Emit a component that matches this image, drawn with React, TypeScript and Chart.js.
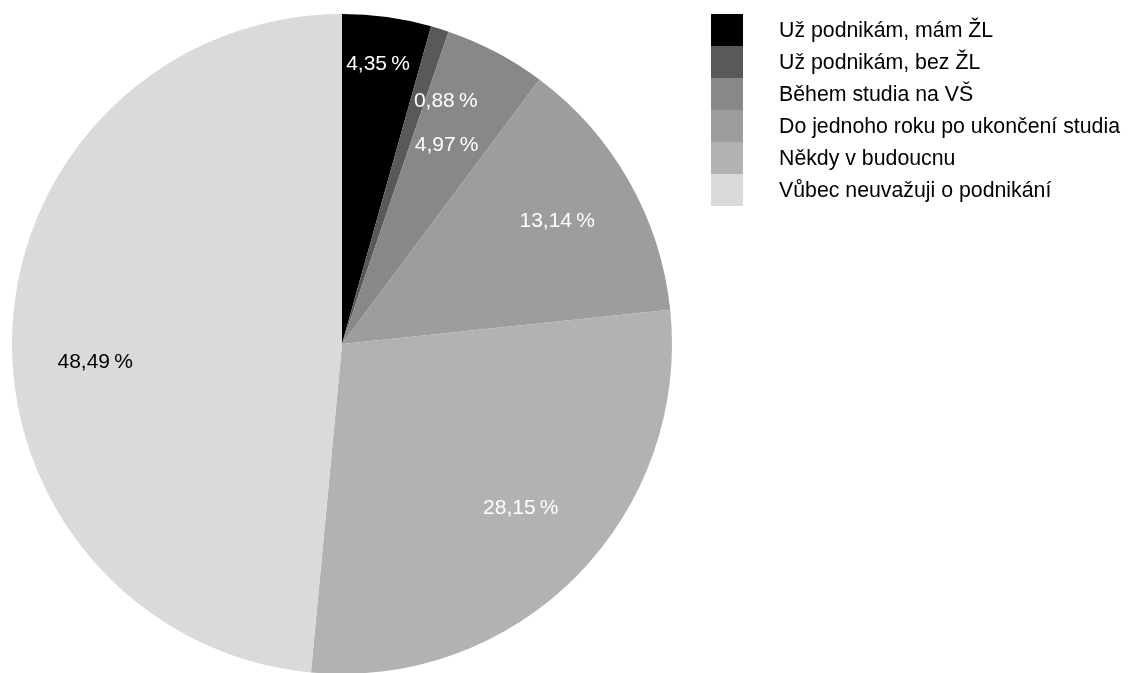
import React, { useEffect, useRef } from "react";
import { Chart, registerables } from "chart.js";

Chart.register(...registerables);

const categories = [
  "Už podnikám, mám ŽL",
  "Už podnikám, bez ŽL",
  "Během studia na VŠ",
  "Do jednoho roku po ukončení studia",
  "Někdy v budoucnu",
  "Vůbec neuvažuji o podnikání",
];
const values = [4.35, 0.88, 4.97, 13.14, 28.15, 48.49];
const colors = ["#000000", "#58595b", "#87888a", "#9c9d9f", "#b1b2b4", "#d9dadc"];
const labelColors = ["#ffffff", "#ffffff", "#ffffff", "#ffffff", "#ffffff", "#000000"];
// label placement relative to each arc: fraction of radius, angular shift (deg)
const labelRadius = [0.855, 0.8, 0.68, 0.75, 0.735, 0.75];
const labelShift = [-0.5, 5.9, 0, 0, -2.2, -6.9];

const FONT = '"Liberation Sans", Arial, sans-serif';

const fmt = (v: number) => v.toFixed(2).replace(".", ",") + "\u202F%";

const labelPlugin = {
  id: "sliceLabels",
  afterDatasetsDraw(chart: any) {
    const ctx = chart.ctx;
    const meta = chart.getDatasetMeta(0);
    ctx.save();
    ctx.font = `21px ${FONT}`;
    ctx.textAlign = "center";
    ctx.textBaseline = "middle";
    meta.data.forEach((arc: any, i: number) => {
      const p = arc.getProps(["x", "y", "startAngle", "endAngle", "outerRadius"], true);
      const mid = (p.startAngle + p.endAngle) / 2 + (labelShift[i] * Math.PI) / 180;
      const r = p.outerRadius * labelRadius[i];
      ctx.fillStyle = labelColors[i];
      ctx.fillText(fmt(values[i]), p.x + Math.cos(mid) * r, p.y + Math.sin(mid) * r);
    });
    ctx.restore();
  },
};

const legendPlugin = {
  id: "sideLegend",
  afterDraw(chart: any) {
    const ctx = chart.ctx;
    const x0 = 711;
    const y0 = 14;
    const box = 32;
    ctx.save();
    ctx.font = `21.3px ${FONT}`;
    ctx.textAlign = "left";
    ctx.textBaseline = "middle";
    categories.forEach((c, i) => {
      ctx.fillStyle = colors[i];
      ctx.fillRect(x0, y0 + i * box, box, box);
      ctx.fillStyle = "#000000";
      ctx.fillText(c, 779, y0 + i * box + box / 2 + 1);
    });
    ctx.restore();
  },
};

export default function App() {
  const ref = useRef<HTMLCanvasElement | null>(null);
  useEffect(() => {
    if (!ref.current) return;
    const chart = new Chart(ref.current, {
      type: "pie",
      data: {
        labels: categories,
        datasets: [
          {
            data: values,
            backgroundColor: colors,
            borderWidth: 0,
          },
        ],
      },
      options: {
        responsive: false,
        animation: false,
        devicePixelRatio: 1,
        layout: { padding: { left: 12, top: 14, right: 456, bottom: 26 } },
        plugins: {
          legend: { display: false },
          tooltip: { enabled: false },
        },
      },
      plugins: [labelPlugin, legendPlugin],
    });
    return () => chart.destroy();
  }, []);
  return (
    <div
      style={{
        position: "fixed",
        left: 0,
        top: 0,
        width: 1128,
        height: 673,
        overflow: "hidden",
        background: "#ffffff",
      }}
    >
      <canvas ref={ref} width={1128} height={700} style={{ display: "block" }} />
    </div>
  );
}
